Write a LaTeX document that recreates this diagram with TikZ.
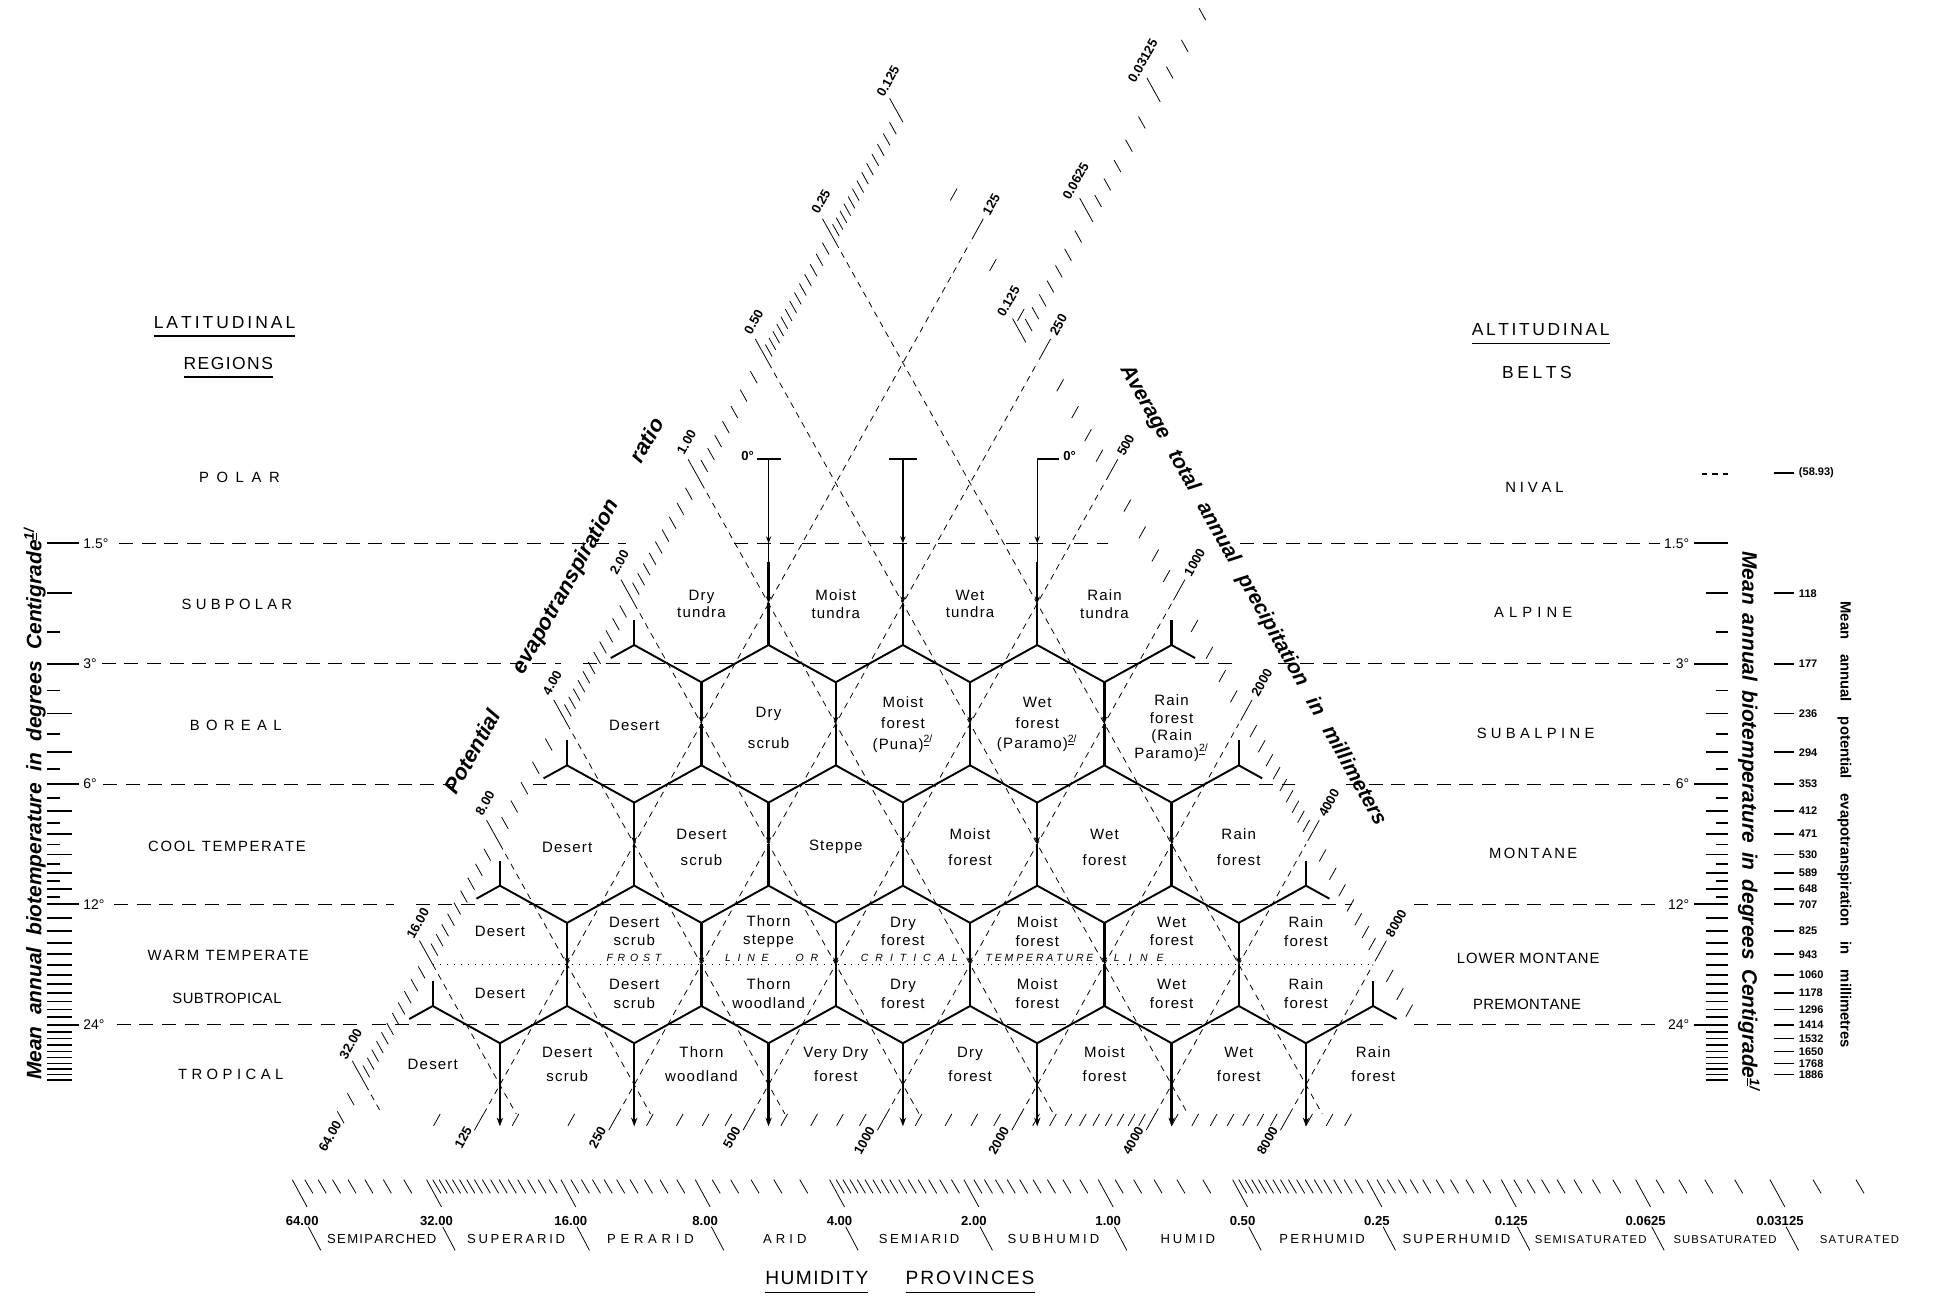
\documentclass[tikz,border=0pt]{standalone}
\usepackage{fontspec}
\setmainfont{Liberation Sans}
\usetikzlibrary{arrows.meta}

\newdimen\unitpx \unitpx=0.25mm
% letters spread over a width given in picture units, | marks a word gap
\let\lspend\relax
\def\lspgo#1{\ifx#1\lspend\else\ifx#1|\hskip 0pt plus 3fil\relax\else#1\hskip 0pt plus 1fil\relax\fi\expandafter\lspgo\fi}
\newcommand\lsp[2]{\makebox[#1\unitpx][s]{\expandafter\lspgo#2\lspend\hskip 0pt plus -1fil\relax}}
\newcommand\wsp[2]{\makebox[#1\unitpx][s]{#2}}
\newcommand\fnote[1]{\textsuperscript{\underline{#1}/}}

\begin{document}
\begin{tikzpicture}[x=0.25mm, y=-0.25mm,
    hexedge/.style={line width=1.1pt, line join=round},
    hexwall/.style={line width=1.3pt},
    midtip/.style={-{Stealth[length=4pt,width=3pt]}},
    guide/.style={line width=0.45pt, dash pattern=on 3.5pt off 3pt},
    templine/.style={line width=0.75pt, dash pattern=on 8pt off 5pt},
    frostline/.style={line width=0.7pt, dash pattern=on 0.6pt off 3.4pt},
    tickline/.style={line width=0.45pt},
    degtick/.style={line width=1pt},
    zone/.style={align=center, inner sep=0pt, font=\fontsize{8.6}{#1}\selectfont\addfontfeature{LetterSpace=8}},
    zone/.default=10,
    region/.style={inner sep=0pt, font=\fontsize{8.5}{10}\selectfont},
    heading/.style={inner sep=0pt, font=\fontsize{10}{12}\selectfont},
    scalenum/.style={inner sep=0pt, font=\fontsize{7.5}{8}\selectfont\bfseries},
    degnum/.style={inner sep=0pt, font=\fontsize{8}{9}\selectfont},
    petnum/.style={inner sep=0pt, anchor=west, font=\fontsize{6.3}{7}\selectfont\bfseries},
    province/.style={inner sep=0pt, font=\fontsize{7.5}{9}\selectfont},
    frostword/.style={inner sep=0pt, font=\fontsize{6}{7}\selectfont\itshape},
    title/.style={inner sep=0pt, font=\fontsize{12}{14}\selectfont\bfseries\itshape}
  ]
\useasboundingbox (0,0) rectangle (1568,1054);
\def\xo{619.6}\def\yo{486.5}\def\hw{54.15}\def\rh{97}\def\ee{33.5}\def\ub{4.2423}

% Temperature guide lines
\foreach \yy/\xa/\xb/\xc/\xd/\xe/\xf in {438/96/505/592/893/1000/1338,
    535/82/452/470/1000/1030/1346, 632.3/83/365/430/1050/1085/1346,
    729/92/318/335/1090/1140/1340, 826/94/290/300/1115/1140/1340}
  \draw[templine] (\xa,\yy) -- (\xb,\yy) (\xc,\yy) -- (\xd,\yy) (\xe,\yy) -- (\xf,\yy);
\draw[frostline] (349,777.5) -- (1107,777.5);

% Degree labels
\foreach \yy/\lab [count=\i] in {438/1.5°, 535/3°, 632/6°, 729/12°, 826/24°} {
  \node[degnum, anchor=west] (degl\i) at (67,\yy) {\lab};
  \node[degnum, anchor=east] (degr\i) at (1362,\yy) {\lab};
}

% Biotemperature ticks, both sides
\foreach \t in {1.5,3,6,12,24} {
  \pgfmathsetmacro{\ty}{438+97*ln(\t/1.5)/ln(2)}
  \draw[degtick] (38,\ty) -- (64,\ty) (1366,\ty) -- (1393,\ty);
}
\foreach \t in {2,4,5,7,8,9,10,11} {
  \pgfmathsetmacro{\ty}{438+97*ln(\t/1.5)/ln(2)}
  \draw[degtick] (38,\ty) -- (58,\ty) (1375,\ty) -- (1393,\ty);
}
\foreach \t in {13,...,23} {
  \pgfmathsetmacro{\ty}{438+97*ln(\t/1.5)/ln(2)}
  \draw[degtick] (38,\ty) -- (58,\ty) (1375,\ty) -- (1393,\ty);
}
\foreach \t in {25,...,33} {
  \pgfmathsetmacro{\ty}{438+97*ln(\t/1.5)/ln(2)}
  \draw[degtick] (38,\ty) -- (58,\ty) (1375,\ty) -- (1393,\ty);
}
\foreach \t in {2.5,3.5,...,11.5} {
  \pgfmathsetmacro{\ty}{438+97*ln(\t/1.5)/ln(2)}
  \draw[degtick] (38,\ty) -- (48,\ty) (1383,\ty) -- (1393,\ty);
}
\draw[degtick, dashed] (1372,382) -- (1396,382);

% Potential evapotranspiration column, right
\foreach \t/\lab in {1/(58.93), 2/118, 3/177, 4/236, 5/294, 6/353, 7/412, 8/471,
    9/530, 10/589, 11/648, 12/707, 14/825, 16/943, 18/1060, 20/1178, 22/1296,
    24/1414, 26/1532, 28/1650, 30/1768, 32/1886} {
  \pgfmathsetmacro{\ty}{438+97*ln(\t/1.5)/ln(2)}
  \draw[degtick] (1430,\ty) -- (1446,\ty);
  \node[petnum] at (1450,\ty) {\lab};
}

% Dashed guides: evapotranspiration ratio and precipitation
\foreach \q in {-5,...,2}
  \draw[guide] ({\xo+\hw*(\q-1)},{\yo-\rh*(1+\q)}) -- ({\xo+2*\hw*\q+\hw*\ub},898);
\foreach \p in {0,...,6}
  \draw[guide] ({\xo+2*\hw*\p-\hw*\ub},898) -- ({\xo+\hw*(\p+3)},{\yo+\rh*(\p-3)});

% Hexagon walls and zigzags, row by row
\foreach \rr in {0,...,4} {
  \pgfmathsetmacro{\yc}{\yo+\rh*\rr}
  \pgfmathsetmacro{\yt}{\yc-\ee}
  \pgfmathsetmacro{\yb}{\yc+\ee}
  \pgfmathsetmacro{\xs}{\xo-2*\hw-\hw*\rr}
  \pgfmathtruncatemacro{\jl}{\rr+3}
  \foreach \j in {1,...,\jl} {
    \pgfmathsetmacro{\xv}{\xs+2*\hw*\j}
    \ifnum\rr<4
      \draw[hexwall, midtip] (\xv,\yt) -- (\xv,\yc);
      \draw[hexwall] (\xv,\yc) -- (\xv,\yb);
    \else
      \draw[hexwall, -{Stealth[length=5pt,width=3.6pt]}] (\xv,\yt) -- (\xv,\yb);
    \fi
  }
  \ifnum\rr<4
    \pgfmathsetmacro{\yn}{\yc+\rh-\ee}
    \pgfmathsetmacro{\xe}{\xs+2*\hw*(\rr+4)}
    \draw[hexwall] (\xs,{\yb-0.6*\ee}) -- (\xs,\yb);
    \draw[hexwall] (\xe,{\yb-0.6*\ee}) -- (\xe,\yb);
    \draw[hexedge] ({\xs-0.35*\hw},{\yb+0.35*(\yn-\yb)}) -- (\xs,\yb)
      \foreach \j in {0,...,\jl} { -- ({\xs+2*\hw*\j+\hw},\yn) -- ({\xs+2*\hw*(\j+1)},\yb) }
      -- ({\xe+0.35*\hw},{\yb+0.35*(\yn-\yb)});
  \fi
}

% Polar markers
\foreach \xv in {619.6,727.9,836.2} {
  \draw[line width=0.8pt, midtip] (\xv,370) -- (\xv,438);
  \draw[line width=0.8pt] (\xv,438) -- (\xv,453);
}
\draw[line width=1.1pt] (610,370) -- (630,370) (717,370) -- (739,370) (836.2,370) -- (854,370);
\node[scalenum, anchor=east] (zero-l) at (608,368) {0°};
\node[scalenum, anchor=west] (zero-r) at (857,368) {0°};

% Ratio scale along the left side
\foreach \k/\n in {4/12, 3/10, 2/6, 1/12, 0/10, -1/8, -2/14, -3/14} {
  \pgfmathtruncatemacro{\nm}{\n-1}
  \foreach \i in {1,...,\nm} {
    \pgfmathsetmacro{\lv}{\k+ln(1+\i/\n)/ln(2)}
    \draw[tickline] ({\xo-\hw-\hw*\lv},{\yo-\rh+\rh*\lv}) -- ++(-5.4,-9.6);
  }
}
\foreach \lv in {5.17,5.32}
  \draw[tickline] ({\xo-\hw-\hw*\lv},{\yo-\rh+\rh*\lv}) -- ++(-5.4,-9.6);
\foreach \k/\lab in {5/32.00, 4/16.00, 3/8.00, 2/4.00, 1/2.00, 0/1.00, -1/0.50, -2/0.25, -3/0.125} {
  \draw[tickline] ({\xo-\hw-\hw*\k},{\yo-\rh+\rh*\k}) -- ++(-10.7,-19.2);
  \node[scalenum, rotate=60.8] (pet\k) at ({\xo-\hw-\hw*\k-12},{\yo-\rh+\rh*\k-33}) {\lab};
}
\node[scalenum, rotate=60.8] (pet6) at (266,916) {64.00};

% Ratio scale continued, top right
\foreach \k/\n in {-4/8, -5/6, -6/4} {
  \pgfmathtruncatemacro{\nm}{\n-1}
  \foreach \i in {1,...,\nm} {
    \pgfmathsetmacro{\lv}{\k+ln(1+\i/\n)/ln(2)}
    \draw[tickline] ({\xo+\hw*(0.83-\lv)},{\yo+\rh*(0.83+\lv)}) -- ++(-5.4,-9.6);
  }
}
\foreach \k/\lab in {-3/0.125, -4/0.0625, -5/0.03125} {
  \draw[tickline] ({\xo+\hw*(0.83-\k)},{\yo+\rh*(0.83+\k)}) -- ++(-10.7,-19.2);
  \node[scalenum, rotate=60.8] (top\k) at ({\xo+\hw*(0.83-\k)-14},{\yo+\rh*(0.83+\k)-33}) {\lab};
}

% Precipitation scales, right side and base
\foreach \st/\sp/\en in {100/50/200, 300/50/450, 600/100/900, 1200/200/1800, 2200/200/3800, 4500/500/7500, 9000/1000/11000} {
  \pgfmathsetmacro{\snd}{\st+\sp}
  \foreach \pv in {\st,\snd,...,\en} {
    \pgfmathsetmacro{\pl}{ln(\pv/125)/ln(2)}
    \draw[tickline] ({\xo+\hw*(\pl+3)+1.5},{\yo+\rh*(\pl-3)-2.6}) -- ++(5.4,-9.6);
    \draw[tickline] ({389.8+108.3*\pl},898) -- ++(-5.4,9.6);
  }
}
\foreach \p/\lab in {0/125, 1/250, 2/500, 3/1000, 4/2000, 5/4000, 6/8000} {
  \draw[tickline] ({\xo+\hw*(\p+3)+1.5},{\yo+\rh*(\p-3)-2.6}) -- ++(9.2,-16.6);
  \node[scalenum, rotate=60.8, anchor=west] (pr\p) at ({\xo+\hw*(\p+3)+12.7},{\yo+\rh*(\p-3)-22.7}) {\lab};
  \draw[tickline] ({389.8+108.3*\p},898) -- ++(-7.3,13.1);
  \node[scalenum, rotate=60.8, anchor=east] (pb\p) at ({389.8+108.3*\p-12},909) {\lab};
}

% Humidity provinces scale
\foreach \k/\n in {5/8, 4/16, 3/10, 2/6, 1/15, 0/10, -1/6, -2/16, -3/10, -4/8, -5/5} {
  \pgfmathtruncatemacro{\nm}{\n-1}
  \foreach \i in {1,...,\nm} {
    \pgfmathsetmacro{\hx}{892.4-108.3*(\k+ln(1+\i/\n)/ln(2))}
    \draw[tickline] ({\hx-7},951) -- ({\hx-0.5},962);
  }
}
\foreach \lv in {-5.32,-5.64} {
  \pgfmathsetmacro{\hx}{892.4-108.3*\lv}
  \draw[tickline] ({\hx-7},951) -- ({\hx-0.5},962);
}
\foreach \k/\lab in {6/64.00, 5/32.00, 4/16.00, 3/8.00, 2/4.00, 1/2.00, 0/1.00,
    -1/0.50, -2/0.25, -3/0.125, -4/0.0625, -5/0.03125} {
  \pgfmathsetmacro{\hx}{892.4-108.3*\k}
  \draw[tickline] ({\hx-7},951) -- ({\hx+5},973);
  \draw[tickline] ({\hx+6},989) -- ({\hx+16},1008);
  \node[scalenum] (hum\k) at ({\hx+1},984) {\lab};
}
\foreach \c/\pname/\w in {5.5/SEMIPARCHED/88, 4.5/SUPERARID/79, 3.5/PERARID/70, 2.5/ARID/35,
    1.5/SEMIARID/65, 0.5/SUBHUMID/74, -0.5/HUMID/44, -1.5/PERHUMID/69, -2.5/SUPERHUMID/87}
  \node[province] at ({892.4-108.3*\c+11},999) {\lsp{\w}{\pname}};
\foreach \c/\pname/\w in {-3.5/SEMISATURATED/90, -4.5/SUBSATURATED/83, -5.5/SATURATED/64}
  \node[province, font=\fontsize{6.5}{8}\selectfont] at ({892.4-108.3*\c+11},999) {\lsp{\w}{\pname}};
\node[heading, font=\fontsize{11}{13}\selectfont] (hum-a) at (658.5,1030) {\lsp{83}{HUMIDITY}};
\node[heading, font=\fontsize{11}{13}\selectfont] (hum-b) at (782,1030) {\lsp{104}{PROVINCES}};
\draw[line width=0.9pt] (617,1042) -- (700,1042) (730,1042) -- (834,1042);

% Axis titles
\node[title, rotate=90] (bt-left) at (28,648) {\wsp{445}{Mean annual biotemperature in degrees Centigrade\fnote{1}}};
\node[title, rotate=-90] (bt-right) at (1410,662) {\wsp{435}{Mean annual biotemperature in degrees Centigrade\fnote{1}}};
\node[inner sep=0pt, font=\fontsize{8.5}{10}\selectfont\bfseries, rotate=-90] (pet-right) at (1487,665)
  {\wsp{360}{Mean annual potential evapotranspiration in millimetres}};
\node[title, font=\fontsize{12.5}{14}\selectfont\bfseries\itshape, rotate=60.8] (pet-title) at (448,489)
  {\wsp{344}{Potential evapotranspiration ratio}};
\node[title, rotate=-60.8] (prec-title) at (1010,480) {\wsp{423}{Average total annual precipitation in millimeters}};

% Latitudinal regions
\node[heading] (lat-head) at (181,260) {\lsp{114}{LATITUDINAL}};
\draw[line width=1pt] (124,271) -- (238,271);
\node[heading] (lat-sub) at (184,293) {\lsp{72}{REGIONS}};
\draw[line width=1pt] (148,304) -- (220,304);
\foreach \xx/\yy/\w/\txt/\nn in {193/385/65/POLAR/polar, 191/487/89/SUBPOLAR/subpolar,
    190/585/74/BOREAL/boreal, 183/682/127/COOL|TEMPERATE/cool, 184/770/130/WARM|TEMPERATE/warm,
    183/805/88/SUBTROPICAL/subtrop, 186/866/85/TROPICAL/trop}
  \node[region] (lat-\nn) at (\xx,\yy) {\lsp{\w}{\txt}};

% Altitudinal belts
\node[heading] (alt-head) at (1242,266) {\lsp{111}{ALTITUDINAL}};
\draw[line width=1pt] (1187,277) -- (1298,277);
\node[heading] (alt-sub) at (1239,300) {\lsp{56}{BELTS}};
\foreach \xx/\yy/\w/\txt/\nn in {1237/393/47/NIVAL/nival, 1236/494/63/ALPINE/alpine,
    1238/591/95/SUBALPINE/subalpine, 1236/688/71/MONTANE/montane,
    1232/773/115/LOWER|MONTANE/lower, 1231/810/87/PREMONTANE/premontane}
  \node[region] (alt-\nn) at (\xx,\yy) {\lsp{\w}{\txt}};

% Life zones
\foreach \xx/\txt [count=\i] in {565.5/Dry\\tundra, 673.8/Moist\\tundra, 782/Wet\\tundra, 890.4/Rain\\tundra}
  \node[zone] (subpolar-\i) at (\xx,487) {\txt};
\node[zone] (boreal-1) at (511.3,585) {Desert};
\node[zone=17.5] (boreal-2) at (619.6,587) {Dry\\scrub};
\node[zone=12] (boreal-3) at (727.9,584) {Moist\\forest\\(Puna)\fnote{2}};
\node[zone=12] (boreal-4) at (836.2,584) {Wet\\forest\\(Paramo)\fnote{2}};
\node[zone=10] (boreal-5) at (944.5,587) {Rain\\forest\\(Rain\\Paramo)\fnote{2}};
\foreach \xx/\txt [count=\i] in {457.2/Desert, 565.5/Desert\\scrub, 673.8/Steppe, 782/Moist\\forest,
    890.4/Wet\\forest, 998.6/Rain\\forest}
  \node[zone=15] (cool-\i) at (\xx,683) {\txt};
\foreach \xx/\txt [count=\i] in {403/Desert, 511.3/Desert\\scrub, 619.6/Thorn\\steppe, 727.9/Dry\\forest,
    836.2/Moist\\forest, 944.5/Wet\\forest, 1052.8/Rain\\forest}
  \node[zone=10.7] (warm-\i) at (\xx,751) {\txt};
\foreach \xx/\txt [count=\i] in {403/Desert, 511.3/Desert\\scrub, 619.6/Thorn\\woodland, 727.9/Dry\\forest,
    836.2/Moist\\forest, 944.5/Wet\\forest, 1052.8/Rain\\forest}
  \node[zone=10.7] (subtrop-\i) at (\xx,801) {\txt};
\foreach \xx/\txt [count=\i] in {348.9/Desert, 457.2/Desert\\scrub, 565.5/Thorn\\woodland, 673.8/Very Dry\\forest,
    782/Dry\\forest, 890.4/Moist\\forest, 998.6/Wet\\forest, 1107/Rain\\forest}
  \node[zone=14] (trop-\i) at (\xx,858) {\txt};

% Frost line words
\foreach \xx/\w/\txt [count=\i] in {511/44/FROST, 622/75/LINE|OR, 733/78/CRITICAL, 838/87/TEMPERATURE, 918/40/LINE}
  \node[frostword] (frost-\i) at (\xx,772) {\lsp{\w}{\txt}};

\end{tikzpicture}
\end{document}
